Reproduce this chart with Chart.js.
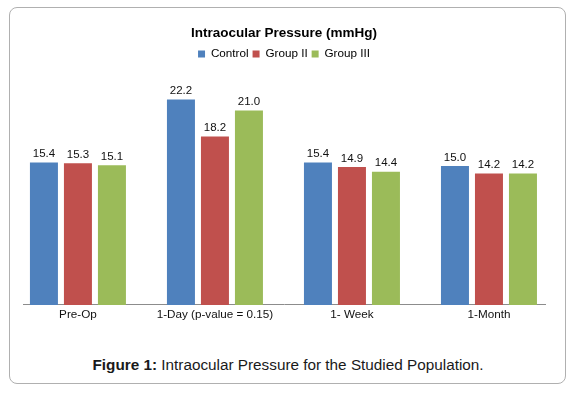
<!DOCTYPE html>
<html>
<head>
<meta charset="utf-8">
<script src="https://cdn.jsdelivr.net/npm/chart.js@4.4.1/dist/chart.umd.min.js"></script>
<style>
  html, body { margin: 0; padding: 0; background: #fff; width: 574px; height: 398px; overflow: hidden; position: relative; }
  #frame { position: absolute; left: 9px; top: 7px; width: 555px; height: 375px; border: 1.5px solid #b0b0b0; border-radius: 8px; }
  #wrap { position: absolute; left: 0; top: 0; width: 574px; height: 325px; }
  #caption { position: absolute; left: 0; top: 356px; width: 576px; text-align: center; font-family: "Liberation Sans", Arial, sans-serif; font-size: 15.3px; line-height: 18px; color: #1a1a1a; white-space: nowrap; }
</style>
</head>
<body>
<div id="frame"></div>
<div id="wrap"><canvas id="c" width="574" height="325"></canvas></div>
<div id="caption"><b>Figure 1:</b> Intraocular Pressure for the Studied Population.</div>
<script>
const categories = ["Pre-Op", "1-Day (p-value = 0.15)", "1- Week", "1-Month"];
const seriesNames = ["Control", "Group II", "Group III"];
const control = [15.4, 22.2, 15.4, 15.0];
const group2 = [15.3, 18.2, 14.9, 14.2];
const group3 = [15.1, 21.0, 14.4, 14.2];
const colors = ["#4F81BD", "#C0504D", "#9BBB59"];

const FONT = '"Liberation Sans", Arial, sans-serif';

function toPoints(arr) { return arr.map((v, i) => ({ x: i, y: v })); }

const valueLabels = {
  id: 'valueLabels',
  afterDatasetsDraw(chart) {
    const ctx = chart.ctx;
    ctx.save();
    ctx.font = '11.5px ' + FONT;
    ctx.fillStyle = '#111';
    ctx.textAlign = 'center';
    ctx.textBaseline = 'alphabetic';
    chart.data.datasets.forEach((ds, di) => {
      const meta = chart.getDatasetMeta(di);
      meta.data.forEach((el, i) => {
        ctx.fillText(ds.data[i].y.toFixed(1), el.x, el.y - 5.5);
      });
    });
    ctx.restore();
  }
};

new Chart(document.getElementById('c'), {
  type: 'bar',
  data: {
    datasets: [
      { label: seriesNames[0], data: toPoints(control), backgroundColor: colors[0], borderColor: colors[0], borderWidth: 0 },
      { label: seriesNames[1], data: toPoints(group2), backgroundColor: colors[1], borderColor: colors[1], borderWidth: 0 },
      { label: seriesNames[2], data: toPoints(group3), backgroundColor: colors[2], borderColor: colors[2], borderWidth: 0 }
    ]
  },
  options: {
    responsive: false,
    animation: false,
    devicePixelRatio: 1,
    categoryPercentage: 0.7445,
    barPercentage: 0.8235,
    layout: { padding: { left: 23, right: 29, top: 0, bottom: 0 } },
    plugins: {
      title: {
        display: true,
        text: 'Intraocular Pressure (mmHg)',
        color: '#000',
        font: { family: FONT, size: 13.5, weight: 'bold' },
        padding: { top: 25.4, bottom: 2.5 }
      },
      legend: {
        display: true,
        labels: {
          color: '#000',
          font: { family: FONT, size: 11.7 },
          boxWidth: 7,
          boxHeight: 7,
          padding: 4
        }
      },
      tooltip: { enabled: false }
    },
    scales: {
      x: {
        type: 'linear',
        offset: false,
        min: -0.401,
        max: 3.409,
        grid: { display: false, drawTicks: false },
        border: { display: true, color: '#8c8c8c', width: 1 },
        afterBuildTicks(scale) {
          scale.ticks = categories.map((c, i) => ({ value: i }));
        },
        ticks: {
          autoSkip: false,
          maxRotation: 0,
          padding: 3,
          color: '#111',
          font: { family: FONT, size: 11.7 },
          callback: (v) => categories[v]
        }
      },
      y: {
        display: false,
        min: 0,
        max: 25.4
      }
    }
  },
  plugins: [valueLabels]
});
</script>
</body>
</html>
